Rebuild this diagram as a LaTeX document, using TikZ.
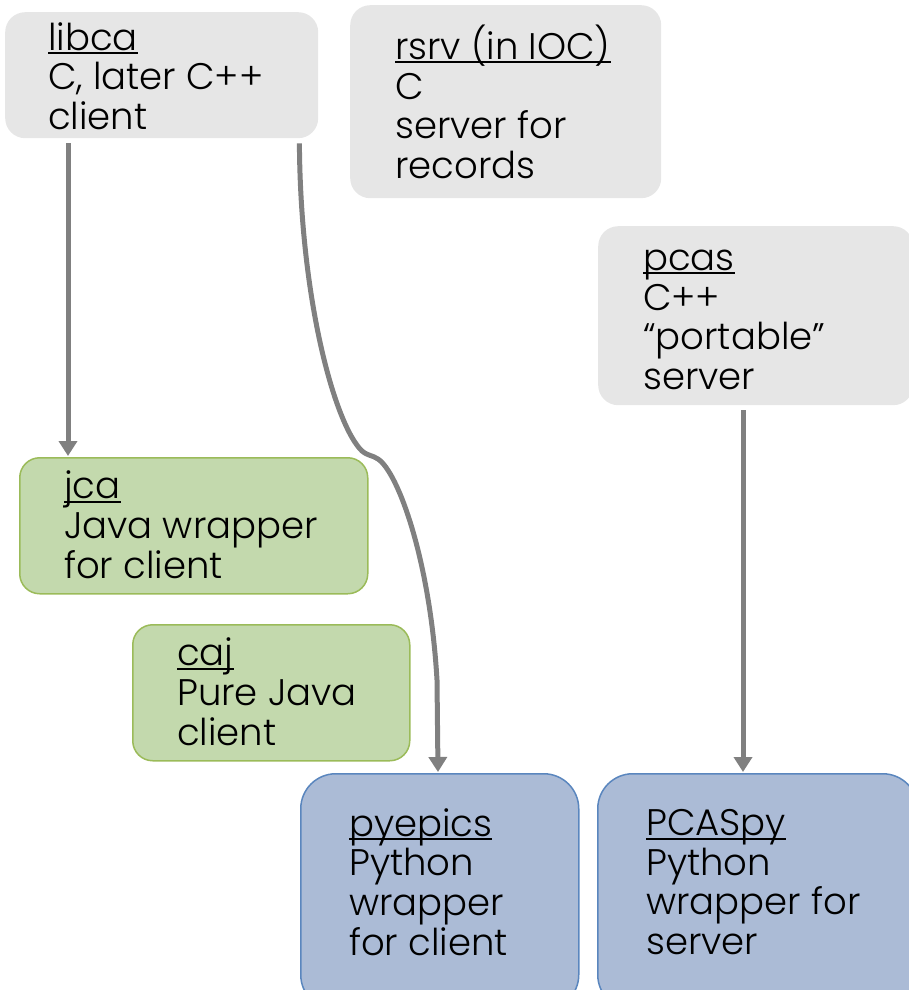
\documentclass[tikz,border=0pt]{standalone}
\usepackage{fontspec}
\IfFontExistsTF{Poppins Light}{\setmainfont{Poppins Light}}{\setmainfont{Poppins}}
\usetikzlibrary{arrows.meta}
\definecolor{boxgray}{HTML}{E6E6E6}
\definecolor{greenfill}{HTML}{C3D9AD}
\definecolor{greenline}{HTML}{9BBB59}
\definecolor{bluefill}{HTML}{ABBBD6}
\definecolor{blueline}{HTML}{5A86BE}
\definecolor{conngray}{HTML}{808080}
\newcommand\tul[1]{\setbox0\hbox{#1}\rlap{\rule[-4pt]{\wd0}{2pt}}\box0}
\tikzset{
  boxbase/.style={anchor=north west, inner sep=0pt, rounded corners=20pt},
  graybox/.style={boxbase, fill=boxgray},
  greenbox/.style={boxbase, fill=greenfill, draw=greenline, line width=1.5pt},
  bluebox/.style={boxbase, fill=bluefill, draw=blueline, line width=1.5pt, rounded corners=35pt},
  txt/.style={anchor=west, align=left, inner sep=0pt, font=\fontsize{37}{39.6}\selectfont},
  conn/.style={draw=conngray, line width=5pt, -{Triangle[width=18pt,length=15pt]}}
}
\begin{document}
\begin{tikzpicture}[x=1pt,y=-1pt]
\useasboundingbox (0,0) rectangle (909,990);
\begin{scope}
\clip (0,0) rectangle (909,990);
\node[graybox, minimum width=313pt, minimum height=126pt] (libca) at (5,12) {};
\node[graybox, minimum width=311pt, minimum height=193pt] (rsrv) at (350,5) {};
\node[graybox, minimum width=315pt, minimum height=179pt] (pcas) at (598,226) {};
\node[greenbox, minimum width=348pt, minimum height=136pt] (jca) at (19,457) {};
\node[greenbox, minimum width=277pt, minimum height=136pt] (caj) at (132,624) {};
\node[bluebox, minimum width=278pt, minimum height=236pt] (pyepics) at (300,773) {};
\node[bluebox, minimum width=320pt, minimum height=236pt] (pcaspy) at (597,773) {};
\end{scope}

\node[txt] (libcaT) at ([xshift=43pt,yshift=-1pt]libca.west) {\tul{libca}\\C, later C++\\client};
\node[txt] (rsrvT) at ([xshift=45pt,yshift=0pt]rsrv.west) {\tul{rsrv (in IOC)}\\C\\server for\\records};
\node[txt] (pcasT) at ([xshift=45pt,yshift=-4pt]pcas.west) {\tul{pcas}\\C++\\“portable”\\server};
\node[txt] (jcaT) at ([xshift=45pt,yshift=1pt]jca.west) {\tul{jca}\\Java wrapper\\for client};
\node[txt] (cajT) at ([xshift=45pt,yshift=1pt]caj.west) {\tul{caj}\\Pure Java\\client};
\node[txt] (pyepicsT) at ([xshift=49pt]pyepics.north west) [yshift=-109pt] {\tul{pyepics}\\Python\\wrapper\\for client};
\node[txt] (pcaspyT) at ([xshift=49pt]pcaspy.north west) [yshift=-109pt] {\tul{PCASpy}\\Python\\wrapper for\\server};

\coordinate (bendA) at (362,451);
\coordinate (bendB) at (378,459);
\draw[conn] ([shift={(63,5)}]libca.south west) -- ([shift={(49,-1)}]jca.north west);
\draw[conn] ([shift={(145,5)}]pcas.south west) -- ([shift={(146,-1)}]pcaspy.north west);
\draw[conn] ([shift={(-19,5)}]libca.south east)
  .. controls +(1,157) and +(-27,-26) .. (bendA)
  .. controls +(6,5) and +(-6,-4) .. (bendB)
  .. controls +(20,13) and +(-7,-120) .. (437,680)
  -- ([shift={(138,-1)}]pyepics.north west);
\end{tikzpicture}
\end{document}
